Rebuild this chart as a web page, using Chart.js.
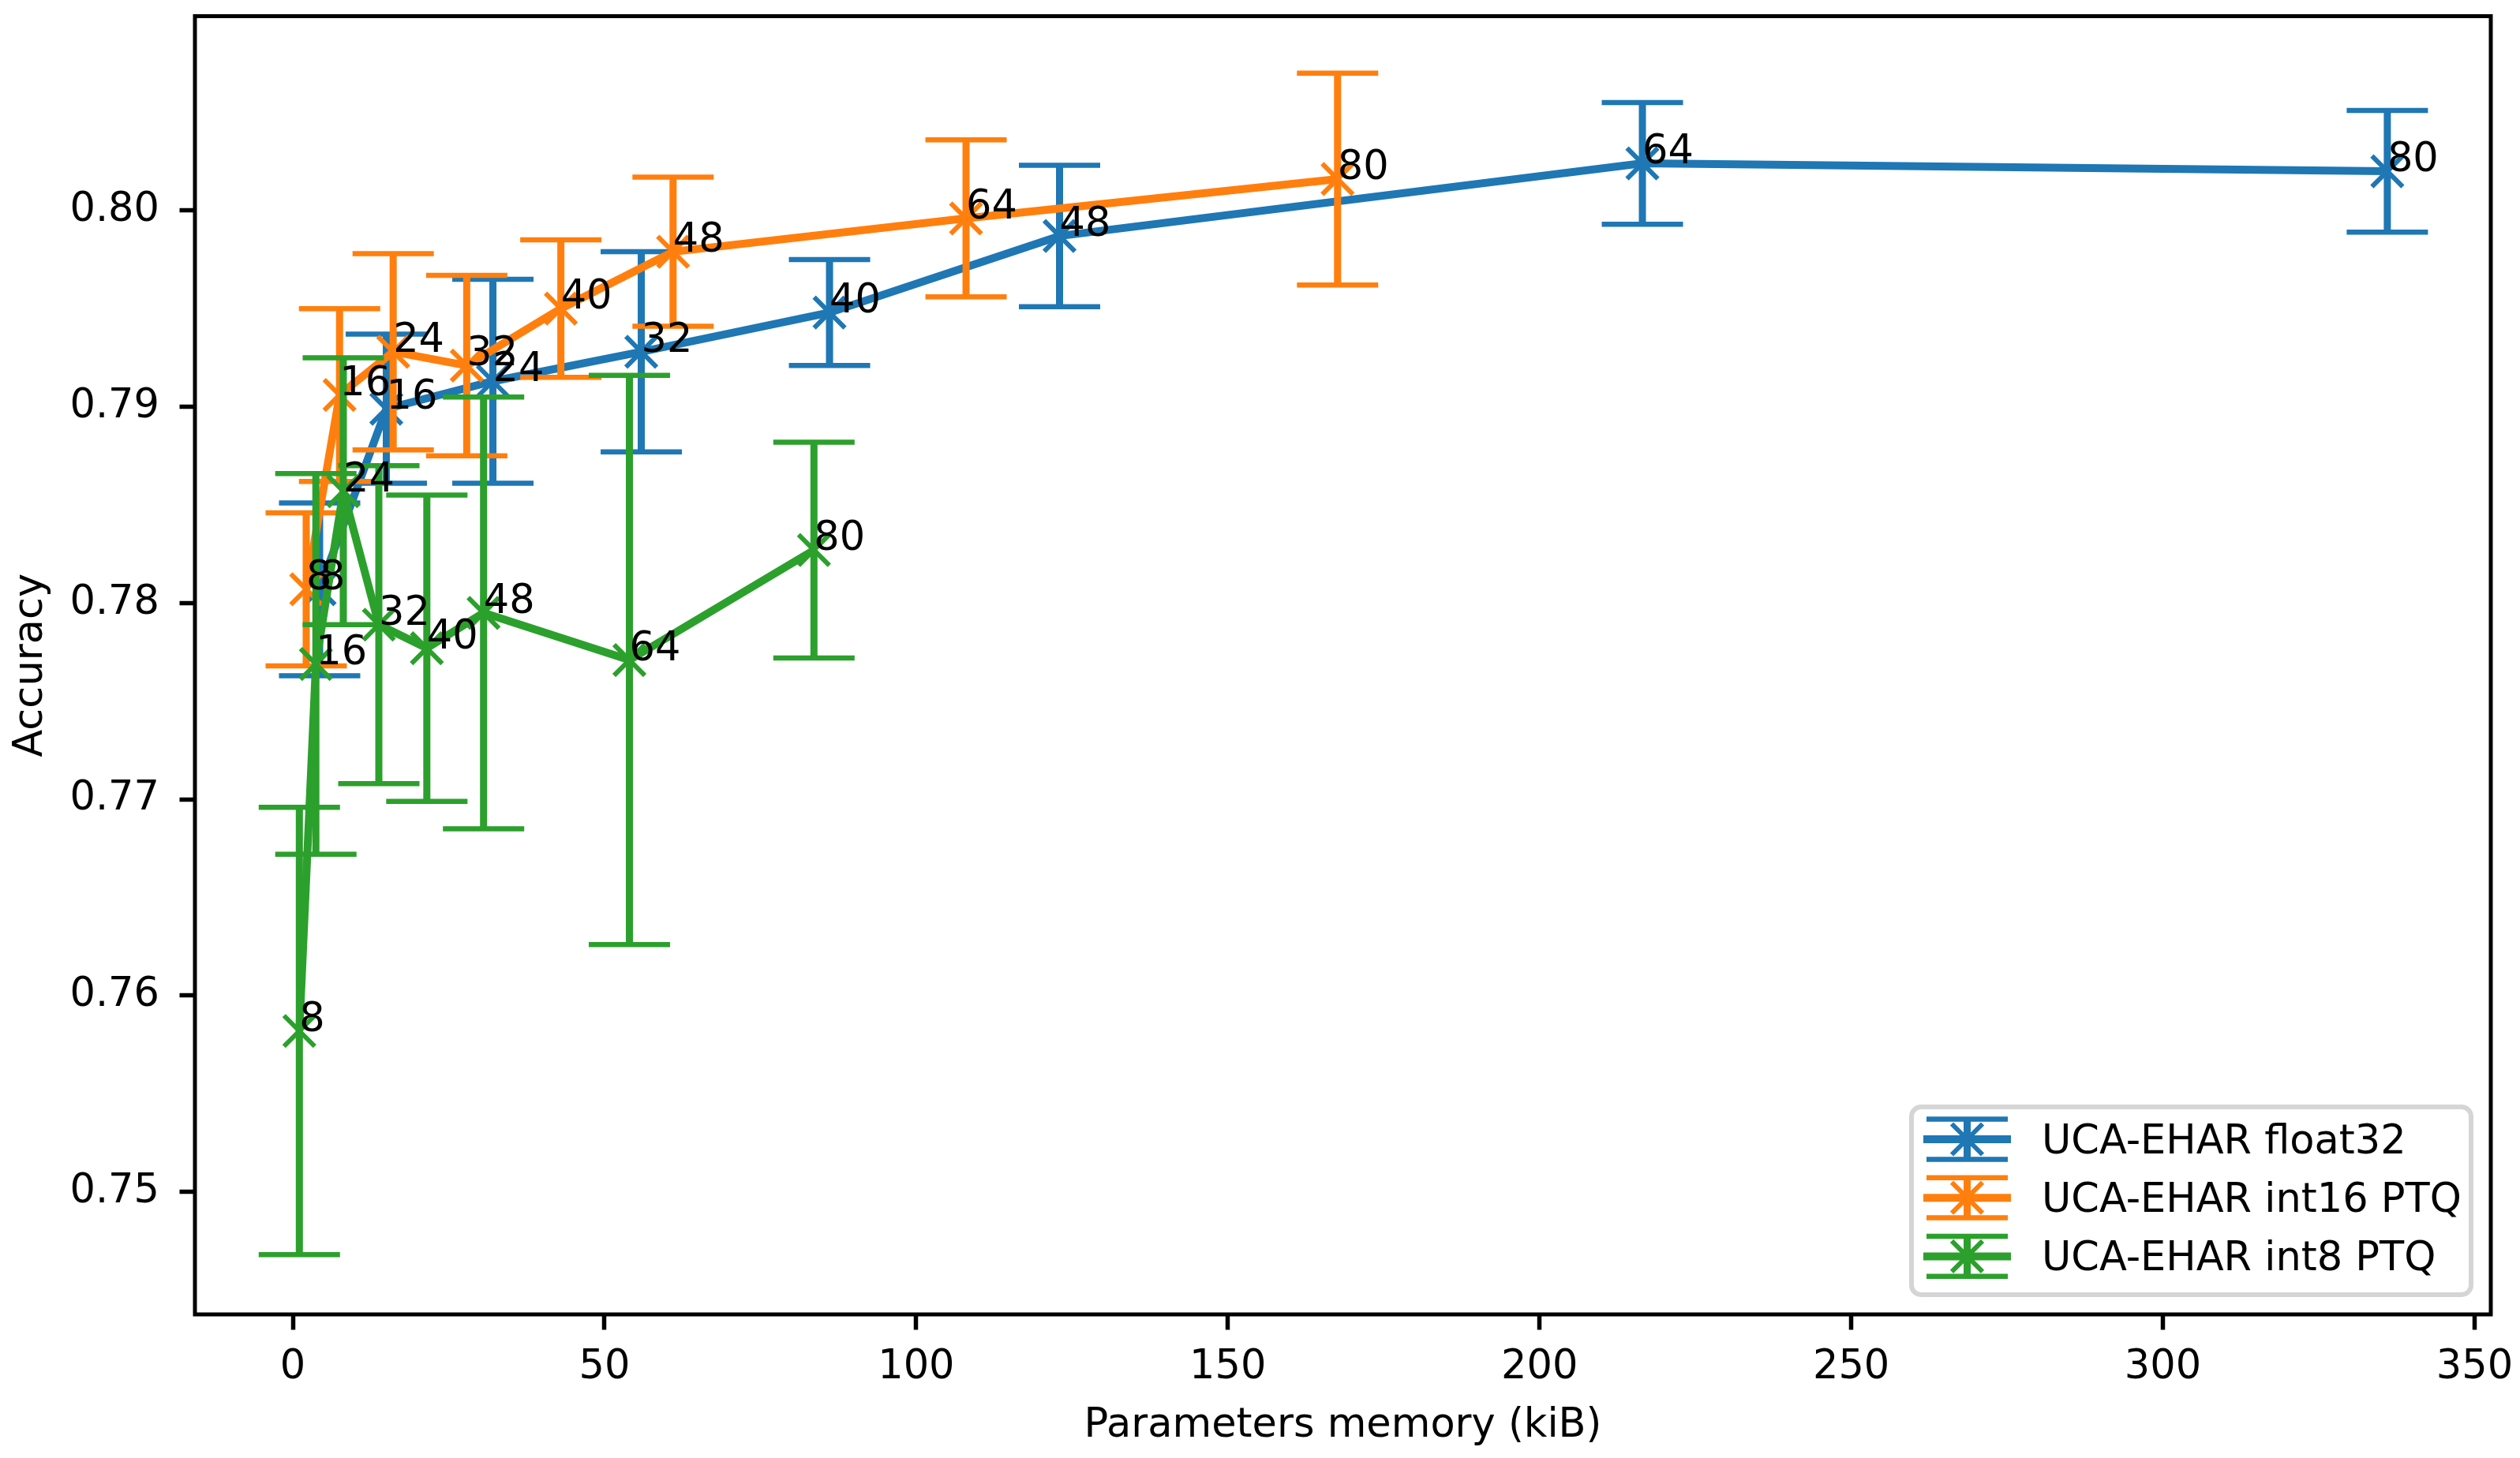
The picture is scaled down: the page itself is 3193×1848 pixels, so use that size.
<!DOCTYPE html>
<html>
<head>
<meta charset="utf-8">
<script src="https://cdn.jsdelivr.net/npm/chart.js@4.4.0/dist/chart.umd.min.js"></script>
<style>
  html, body { margin: 0; padding: 0; background: #fff; }
  canvas { display: block; }
</style>
</head>
<body>
<canvas id="accChart" width="3193" height="1848" style="width:3193px;height:1848px"></canvas>
<script>
// --- DATA ---
const filters = [8, 16, 24, 32, 40, 48, 64, 80];

const memFloat32 = [4.3, 15.0, 32.1, 55.9, 86.1, 123.0, 216.5, 336.0];
const accFloat32 = [0.7807, 0.7899, 0.7913, 0.7928, 0.7948, 0.7987, 0.8024, 0.8020];
const errFloat32 = [0.0044, 0.0038, 0.0052, 0.0051, 0.0027, 0.0036, 0.0031, 0.0031];

const memInt16 = [2.15, 7.5, 16.1, 27.9, 43.0, 61.0, 108.0, 167.6];
const accInt16 = [0.7807, 0.7906, 0.7928, 0.7921, 0.7950, 0.7979, 0.7996, 0.8016];
const errInt16 = [0.0039, 0.0044, 0.0050, 0.0046, 0.0035, 0.0038, 0.0040, 0.0054];

const memInt8 = [1.05, 3.7, 8.1, 13.8, 21.5, 30.6, 54.0, 83.6];
const accInt8 = [0.7582, 0.7769, 0.7857, 0.7789, 0.7777, 0.7795, 0.7771, 0.7827];
const errInt8 = [0.0114, 0.0097, 0.0068, 0.0081, 0.0078, 0.0110, 0.0145, 0.0055];

const seriesNames = ['UCA-EHAR float32', 'UCA-EHAR int16 PTQ', 'UCA-EHAR int8 PTQ'];
const seriesColors = ['#1f77b4', '#ff7f0e', '#2ca02c'];

const xTicks = [0, 50, 100, 150, 200, 250, 300, 350];
const yTicks = [0.75, 0.76, 0.77, 0.78, 0.79, 0.80];

// --- STYLE / HELPERS ---
const FONT = '"DejaVu Sans", sans-serif';
const FS = 51;
const CAP = 51.5;     // half width of error bar caps
const MARK = 19.5;    // half size of the x marker
const AREA = { left: 247, top: 20.5, right: 3156, bottom: 1666 };

Chart.defaults.color = '#000';
Chart.defaults.font.family = FONT;
Chart.defaults.font.size = FS;

const makeSeries = (i, mem, acc, err) => ({
    label: seriesNames[i],
    data: mem.map((m, j) => ({ x: m, y: acc[j] })),
    errors: err,
    borderColor: seriesColors[i],
    backgroundColor: seriesColors[i],
    borderWidth: 10,
    pointStyle: 'crossRot',
    pointRadius: MARK / Math.SQRT1_2,
    pointHoverRadius: MARK / Math.SQRT1_2,
    pointBorderWidth: 6,
    pointBorderColor: seriesColors[i],
    tension: 0,
    order: 2 - i
});

function drawErrorBar(ctx, px, top, bot) {
    ctx.lineWidth = 9;
    ctx.beginPath();
    ctx.moveTo(px, top); ctx.lineTo(px, bot);
    ctx.stroke();
    ctx.lineWidth = 6.5;
    ctx.beginPath();
    ctx.moveTo(px - CAP, top); ctx.lineTo(px + CAP, top);
    ctx.moveTo(px - CAP, bot); ctx.lineTo(px + CAP, bot);
    ctx.stroke();
}

// pin the plot area where the reference has it
const pinArea = {
    id: 'pinArea',
    afterLayout(chart) {
        const ca = chart.chartArea;
        Object.assign(ca, AREA);
        ca.width = AREA.right - AREA.left;
        ca.height = AREA.bottom - AREA.top;
        const x = chart.scales.x, y = chart.scales.y;
        x.left = AREA.left; x.right = AREA.right; x.width = ca.width;
        x.top = AREA.bottom; x.bottom = chart.height; x.height = chart.height - AREA.bottom;
        y.left = 0; y.right = AREA.left; y.width = AREA.left;
        y.top = AREA.top; y.bottom = AREA.bottom; y.height = ca.height;
        x.configure();
        y.configure();
    }
};

// error bars go under each series' own line
const errorBars = {
    id: 'errorBars',
    beforeDatasetDraw(chart, args) {
        const ds = chart.data.datasets[args.index];
        const xs = chart.scales.x, ys = chart.scales.y;
        const ctx = chart.ctx;
        ctx.save();
        ctx.strokeStyle = ds.borderColor;
        ctx.lineCap = 'butt';
        ds.data.forEach((p, j) => {
            const e = ds.errors[j];
            drawErrorBar(ctx, xs.getPixelForValue(p.x),
                ys.getPixelForValue(p.y + e), ys.getPixelForValue(p.y - e));
        });
        ctx.restore();
    }
};

// frame, point labels and legend on top
const overlay = {
    id: 'overlay',
    afterDatasetsDraw(chart) {
        const ctx = chart.ctx;
        const a = chart.chartArea;
        const xs = chart.scales.x, ys = chart.scales.y;
        ctx.save();

        // frame
        ctx.strokeStyle = '#000';
        ctx.lineWidth = 5;
        ctx.strokeRect(a.left, a.top, a.right - a.left, a.bottom - a.top);

        // filter-count labels
        ctx.fillStyle = '#000';
        ctx.font = FS + 'px ' + FONT;
        ctx.textAlign = 'left';
        ctx.textBaseline = 'alphabetic';
        chart.data.datasets.forEach(ds => {
            ds.data.forEach((p, j) => {
                ctx.fillText(String(filters[j]), xs.getPixelForValue(p.x), ys.getPixelForValue(p.y));
            });
        });

        // legend
        ctx.beginPath();
        ctx.roundRect(2422, 1403, 709, 238, 12);
        ctx.fillStyle = 'rgba(255,255,255,0.8)';
        ctx.fill();
        ctx.strokeStyle = '#d5d5d5';
        ctx.lineWidth = 6;
        ctx.stroke();

        const rows = [1444, 1518.2, 1592.4];
        const hx = 2492.5;
        chart.data.datasets.forEach((ds, i) => {
            const cy = rows[i];
            const c = ds.borderColor;
            ctx.strokeStyle = c;
            ctx.lineWidth = 10;
            ctx.beginPath();
            ctx.moveTo(hx - 55.5, cy); ctx.lineTo(hx + 55.5, cy);
            ctx.stroke();
            drawErrorBar(ctx, hx, cy - 25.4, cy + 25.4);
            ctx.lineWidth = 6;
            ctx.beginPath();
            ctx.moveTo(hx - MARK, cy - MARK); ctx.lineTo(hx + MARK, cy + MARK);
            ctx.moveTo(hx - MARK, cy + MARK); ctx.lineTo(hx + MARK, cy - MARK);
            ctx.stroke();
            ctx.fillStyle = '#000';
            ctx.fillText(ds.label, 2587, cy + 17.6);
        });
        ctx.restore();
    }
};

// --- CHART ---
new Chart(document.getElementById('accChart'), {
    type: 'line',
    data: {
        datasets: [
            makeSeries(0, memFloat32, accFloat32, errFloat32),
            makeSeries(1, memInt16, accInt16, errInt16),
            makeSeries(2, memInt8, accInt8, errInt8)
        ]
    },
    options: {
        responsive: false,
        devicePixelRatio: 1,
        animation: false,
        layout: { padding: { left: 0, top: 20, right: 37, bottom: 0 } },
        plugins: {
            legend: { display: false },
            tooltip: { enabled: false }
        },
        scales: {
            x: {
                type: 'linear',
                min: -15.7,
                max: 352.6,
                afterBuildTicks: s => { s.ticks = xTicks.map(v => ({ value: v })); },
                afterFit: s => { s.height = 182; s.paddingLeft = 0; s.paddingRight = 0; },
                ticks: { padding: 18, maxRotation: 0, autoSkip: false, callback: v => String(v) },
                grid: { drawOnChartArea: false, drawTicks: true, tickLength: 19.5, tickWidth: 5.5, tickColor: '#000' },
                border: { display: false },
                title: { display: true, text: 'Parameters memory (kiB)', padding: { top: 0, bottom: 10 }, font: { size: FS } }
            },
            y: {
                type: 'linear',
                min: 0.74376,
                max: 0.80990,
                afterBuildTicks: s => { s.ticks = yTicks.map(v => ({ value: v })); },
                afterFit: s => { s.width = 247; s.paddingTop = 0; s.paddingBottom = 0; },
                ticks: { padding: 25.5, autoSkip: false, font: { size: FS, lineHeight: 0.5 }, callback: v => v.toFixed(2) },
                grid: { drawOnChartArea: false, drawTicks: true, tickLength: 19.5, tickWidth: 5.5, tickColor: '#000' },
                border: { display: false },
                title: { display: true, text: 'Accuracy', padding: { top: 9, bottom: 0 }, font: { size: FS } }
            }
        }
    },
    plugins: [pinArea, errorBars, overlay]
});
</script>
</body>
</html>
